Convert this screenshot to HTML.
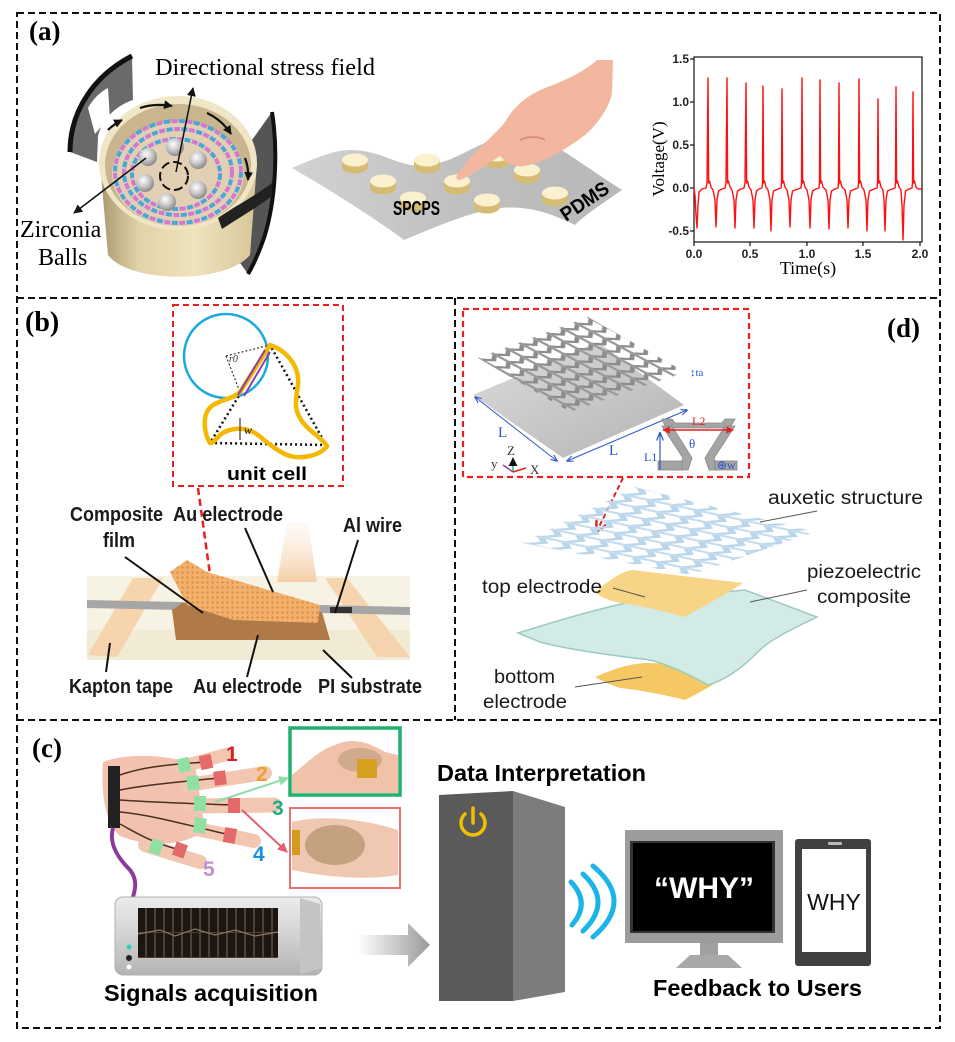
<!DOCTYPE html>
<html><head><meta charset="utf-8"><style>html,body{margin:0;padding:0;background:#fff}svg{display:block}</style></head><body>
<svg width="955" height="1042" viewBox="0 0 955 1042" xmlns="http://www.w3.org/2000/svg" font-family="'Liberation Sans', sans-serif">
<defs>
<marker id="ah" viewBox="0 0 10 10" refX="9" refY="5" markerWidth="6" markerHeight="6" orient="auto-start-reverse"><path d="M0,0 L10,5 L0,10 z" fill="#111"/></marker>
<marker id="ahs" viewBox="0 0 10 10" refX="9" refY="5" markerWidth="4" markerHeight="4" orient="auto"><path d="M0,0 L10,5 L0,10 z" fill="#111"/></marker>
<marker id="ahg" viewBox="0 0 10 10" refX="9" refY="5" markerWidth="5" markerHeight="5" orient="auto"><path d="M0,0 L10,5 L0,10 z" fill="#8fdcaa"/></marker>
<marker id="ahr" viewBox="0 0 10 10" refX="9" refY="5" markerWidth="5" markerHeight="5" orient="auto"><path d="M0,0 L10,5 L0,10 z" fill="#e06070"/></marker>
<marker id="ahb" viewBox="0 0 10 10" refX="9" refY="5" markerWidth="7" markerHeight="7" orient="auto-start-reverse"><path d="M0,1 L10,5 L0,9" fill="none" stroke="#2a55d0" stroke-width="1.5"/></marker>
<marker id="ahrd" viewBox="0 0 10 10" refX="9" refY="5" markerWidth="6" markerHeight="6" orient="auto"><path d="M0,0 L10,5 L0,10" fill="none" stroke="#e02020" stroke-width="2"/></marker>
<marker id="ahred" viewBox="0 0 10 10" refX="9" refY="5" markerWidth="5" markerHeight="5" orient="auto-start-reverse"><path d="M0,0 L10,5 L0,10 z" fill="#e02020"/></marker>
<radialGradient id="ballG" cx="0.4" cy="0.35" r="0.7"><stop offset="0" stop-color="#ffffff"/><stop offset="0.5" stop-color="#c8c8c8"/><stop offset="1" stop-color="#808080"/></radialGradient>
<linearGradient id="cupG" x1="0" y1="0" x2="1" y2="0"><stop offset="0" stop-color="#a89870"/><stop offset="0.25" stop-color="#e2d3a8"/><stop offset="0.6" stop-color="#efe3bd"/><stop offset="1" stop-color="#d7c698"/></linearGradient>
<linearGradient id="sheetG" x1="0" y1="0" x2="1" y2="0"><stop offset="0" stop-color="#d2d2d2"/><stop offset="0.5" stop-color="#c0c0c0"/><stop offset="1" stop-color="#b8b8b8"/></linearGradient>
<linearGradient id="devG" x1="0" y1="0" x2="0" y2="1"><stop offset="0" stop-color="#ececec"/><stop offset="0.5" stop-color="#d2d2d2"/><stop offset="1" stop-color="#b4b4b4"/></linearGradient>
<linearGradient id="arrG" x1="0" y1="0" x2="1" y2="0"><stop offset="0" stop-color="#ffffff"/><stop offset="1" stop-color="#9a9a9a"/></linearGradient>
<linearGradient id="glowG" x1="0" y1="1" x2="0" y2="0"><stop offset="0" stop-color="#f6cfa8"/><stop offset="1" stop-color="#fbeee2" stop-opacity="0.3"/></linearGradient>
<linearGradient id="plateG" x1="0" y1="0" x2="1" y2="1"><stop offset="0" stop-color="#dcdcdc"/><stop offset="1" stop-color="#b4b4b4"/></linearGradient>
<pattern id="lat" patternUnits="userSpaceOnUse" width="12.5" height="14" patternTransform="matrix(1.10,-0.41,0.99,0.53,478,358)">
<polyline points="0,3 6.25,9 12.5,3" fill="none" stroke="#8c8c8c" stroke-width="3.2"/>
<line x1="0" y1="0" x2="0" y2="14" stroke="#9a9a9a" stroke-width="2.6"/>
<line x1="12.5" y1="0" x2="12.5" y2="14" stroke="#9a9a9a" stroke-width="2.6"/>
</pattern>
<pattern id="aux" patternUnits="userSpaceOnUse" width="12.5" height="14" patternTransform="matrix(1.13,-0.56,1.68,0.36,522,543)">
<polyline points="0,3 6.25,9 12.5,3" fill="none" stroke="#b9d6ea" stroke-width="3.4"/>
<line x1="0" y1="0" x2="0" y2="14" stroke="#c4dcee" stroke-width="2.6"/>
<line x1="12.5" y1="0" x2="12.5" y2="14" stroke="#c4dcee" stroke-width="2.6"/>
</pattern>
<pattern id="grid" patternUnits="userSpaceOnUse" width="9" height="25" x="138" y="908">
<rect width="9" height="25" fill="#1c1612"/><line x1="8" y1="0" x2="8" y2="25" stroke="#6e5c48" stroke-width="1.2"/><line x1="0" y1="24.5" x2="9" y2="24.5" stroke="#4e4034" stroke-width="1"/>
</pattern>
<pattern id="mesh" patternUnits="userSpaceOnUse" width="5" height="5"><rect width="5" height="5" fill="#f2b06c"/><circle cx="2.5" cy="2.5" r="1.1" fill="#d88a40"/></pattern>
<g id="disc"><path d="M-13,0 L-13,7 A13,6.5 0 0 0 13,7 L13,0 Z" fill="#d6bb74"/><ellipse cx="0" cy="0" rx="13" ry="6.5" fill="#fbf1cf"/></g>
</defs>

<!-- Borders -->
<path d="M17,13 H940 V1028 H17 Z M17,298 H940 M455,298 V720 M17,720 H940" fill="none" stroke="#111" stroke-width="2" stroke-dasharray="7 4"/>

<!-- ===== Panel (a) ===== -->
<text x="29" y="40" font-family="'Liberation Serif', serif" font-weight="bold" font-size="27">(a)</text>

<path d="M70,152 C70,110 95,75 132,56 L133,100 C115,106 102,120 98,136 L97,162 Z" fill="#6a6a6a"/>
<path d="M88,108 C92,100 100,92 108,88 L110,120 C104,124 98,130 95,134 Z" fill="#fff"/>
<path d="M70,152 C70,110 95,75 132,56" fill="none" stroke="#111" stroke-width="5"/>
<path d="M252,140 L272,112 C278,150 276,200 264,238 C259,252 254,264 248,274 L238,260 C248,232 255,200 255,170 Z" fill="#555"/>
<path d="M272,112 C278,150 276,200 264,238 C259,252 254,264 248,274" fill="none" stroke="#111" stroke-width="4"/>
<path d="M100,163 L108,255 C130,284 226,284 250,255 L257,163 Z" fill="url(#cupG)"/>
<ellipse cx="178" cy="163" rx="79" ry="67" fill="#f0e5c4"/>
<ellipse cx="178" cy="165" rx="73" ry="61" fill="#c9b58e"/>
<ellipse cx="178" cy="174" rx="66" ry="52" fill="#e2cfb4"/>
<path d="M218,218 C235,206 255,196 272,183 L272,196 C258,207 240,217 222,229 Z" fill="#222"/>
<g fill="none" stroke-width="4">
<ellipse cx="178" cy="172" rx="63" ry="51" stroke="#4aa6d8" stroke-dasharray="6 9"/>
<ellipse cx="178" cy="172" rx="63" ry="51" stroke="#d27ad2" stroke-dasharray="6 9" stroke-dashoffset="7.5"/>
<ellipse cx="178" cy="172" rx="54" ry="43" stroke="#d27ad2" stroke-dasharray="6 9"/>
<ellipse cx="178" cy="172" rx="54" ry="43" stroke="#4aa6d8" stroke-dasharray="6 9" stroke-dashoffset="7.5"/>
<ellipse cx="176" cy="174" rx="44" ry="35" stroke="#4aa6d8" stroke-dasharray="6 9"/>
<ellipse cx="176" cy="174" rx="44" ry="35" stroke="#d27ad2" stroke-dasharray="6 9" stroke-dashoffset="7.5"/>
</g>
<g fill="url(#ballG)">
<circle cx="148" cy="157" r="9"/><circle cx="175" cy="147" r="9"/><circle cx="198" cy="160" r="9"/>
<circle cx="145" cy="183" r="9"/><circle cx="198" cy="190" r="9"/><circle cx="167" cy="202" r="9"/>
</g>
<circle cx="174" cy="176" r="14" fill="none" stroke="#111" stroke-width="2" stroke-dasharray="9 4"/>
<g fill="none" stroke="#111" stroke-width="2.2" marker-end="url(#ahs)">
<path d="M140,108 Q155,103 172,106"/>
<path d="M207,113 Q222,120 231,134"/>
<path d="M245,158 Q249,168 248,180"/>
<path d="M108,130 Q114,124 122,120"/>
</g>
<line x1="176" y1="172" x2="193" y2="88" stroke="#111" stroke-width="1.5" marker-end="url(#ah)"/>
<line x1="146" y1="158" x2="74" y2="213" stroke="#111" stroke-width="1.5" marker-end="url(#ah)"/>
<text x="155" y="75" font-family="'Liberation Serif', serif" font-size="24" textLength="220" lengthAdjust="spacingAndGlyphs">Directional stress field</text>
<text x="20" y="237" font-family="'Liberation Serif', serif" font-size="24">Zirconia</text>
<text x="38" y="265" font-family="'Liberation Serif', serif" font-size="24">Balls</text>

<path d="M292,168 C315,158 335,150 350,150 C385,150 400,170 430,165 C460,160 480,140 510,135 C540,130 560,150 622,190 C600,205 585,215 575,225 C555,215 530,205 500,208 C470,212 440,225 404,240 C370,215 330,190 292,168 Z" fill="url(#sheetG)"/>
<use href="#disc" x="355" y="160"/><use href="#disc" x="427" y="160"/><use href="#disc" x="497" y="155"/>
<use href="#disc" x="383" y="181"/><use href="#disc" x="457" y="181"/><use href="#disc" x="527" y="170"/>
<use href="#disc" x="413" y="198"/><use href="#disc" x="487" y="200"/><use href="#disc" x="555" y="193"/>
<path d="M597,60 C580,75 560,82 545,88 C528,95 515,105 505,122 C495,135 475,150 462,168 C455,176 455,180 460,180 C470,176 485,165 500,156 C505,162 515,168 525,166 C545,162 565,150 585,135 C600,122 610,105 612,93 L613,60 Z" fill="#f3b7a0"/>
<path d="M520,140 C528,136 538,136 545,140" fill="none" stroke="#d8907a" stroke-width="2"/>
<text x="393" y="215" font-weight="bold" font-size="20" textLength="47" lengthAdjust="spacingAndGlyphs">SPCPS</text>
<text x="0" y="0" font-weight="bold" font-size="20" textLength="54" lengthAdjust="spacingAndGlyphs" transform="translate(566,222) rotate(-34)">PDMS</text>

<rect x="694" y="57" width="228" height="185" fill="none" stroke="#111" stroke-width="1.2"/>
<g stroke="#111" stroke-width="1.2">
<line x1="690" y1="59" x2="694" y2="59"/><line x1="690" y1="102" x2="694" y2="102"/><line x1="690" y1="145" x2="694" y2="145"/><line x1="690" y1="188" x2="694" y2="188"/><line x1="690" y1="231" x2="694" y2="231"/>
<line x1="694" y1="242" x2="694" y2="246"/><line x1="750" y1="242" x2="750" y2="246"/><line x1="807" y1="242" x2="807" y2="246"/><line x1="863" y1="242" x2="863" y2="246"/><line x1="920" y1="242" x2="920" y2="246"/>
</g>
<g font-weight="bold" font-size="12" text-anchor="end" fill="#222">
<text x="689" y="63">1.5</text><text x="689" y="106">1.0</text><text x="689" y="149">0.5</text><text x="689" y="192">0.0</text><text x="689" y="235">-0.5</text>
</g>
<g font-weight="bold" font-size="12" text-anchor="middle" fill="#222">
<text x="694" y="258">0.0</text><text x="750" y="258">0.5</text><text x="807" y="258">1.0</text><text x="863" y="258">1.5</text><text x="920" y="258">2.0</text>
</g>
<text x="808" y="274" text-anchor="middle" font-family="'Liberation Serif', serif" font-size="18">Time(s)</text>
<text x="0" y="0" text-anchor="middle" font-family="'Liberation Serif', serif" font-size="17" transform="translate(664,159) rotate(-90)">Voltage(V)</text>
<path fill="none" stroke="#ff1010" stroke-width="1.4" stroke-linejoin="round" d="M694,188 L695,196 L696,215 L697,228 L698,205 L699,192 L702,189 L706,188 L707,183 L708,78 L708.6,183 L709.5,181 L711,187 L713,190 L715,200 L716,227 L717,200 L718.5,191 L722,189 L725,188 L726,183 L727,78 L727.6,183 L728.5,181 L730,187 L732,190 L734,200 L735,228 L736,200 L737.5,191 L741,189 L744,188 L745,183 L746,83 L746.6,183 L747.5,181 L749,187 L751,190 L753,200 L754,228 L755,200 L756.5,191 L759,189 L762,188 L762.5,183 L763,86 L763.6,183 L764.5,181 L766,187 L768,190 L770,200 L771,231 L772,200 L773.5,191 L778,189 L781,188 L781.5,183 L782,89 L782.6,183 L783.5,181 L785,187 L787,190 L789,200 L790,227 L791,200 L792.5,191 L798,189 L801,188 L801.5,183 L802,78 L802.6,183 L803.5,181 L805,187 L807,190 L809,200 L810,228 L811,200 L812.5,191 L816,189 L819,188 L819.5,183 L820,80 L820.6,183 L821.5,181 L823,187 L826,190 L828,200 L829,229 L830,200 L831.5,191 L835,189 L838,188 L838.5,183 L839,83 L839.6,183 L840.5,181 L842,187 L845,190 L847,200 L848,228 L849,200 L850.5,191 L855,189 L858,188 L858.5,183 L859,79 L859.6,183 L860.5,181 L862,187 L864,190 L866,200 L867,231 L868,200 L869.5,191 L874,189 L877,188 L877.5,183 L878,99 L878.6,183 L879.5,181 L881,187 L883,190 L884,200 L885,231 L886,200 L887.5,191 L892,189 L895,188 L895.5,183 L896,87 L896.6,183 L897.5,181 L899,187 L901,190 L902,205 L903,240 L904,205 L905.5,191 L909,189 L912,188 L912.5,183 L913,92 L913.6,183 L914.5,181 L916,187 L918,189 L922,189"/>

<!-- ===== Panel (b) ===== -->
<text x="25" y="331" font-family="'Liberation Serif', serif" font-weight="bold" font-size="28">(b)</text>
<rect x="173" y="305" width="170" height="181" fill="none" stroke="#e82020" stroke-width="2" stroke-dasharray="6 4"/>
<circle cx="226" cy="356" r="42" fill="none" stroke="#1aa8e0" stroke-width="2.5"/>
<path d="M270,345 L210,443 L326,445 Z" fill="none" stroke="#111" stroke-width="2.5" stroke-dasharray="2 3"/>
<line x1="226" y1="356" x2="270" y2="345" stroke="#111" stroke-width="1" stroke-dasharray="2 2"/>
<line x1="226" y1="356" x2="240" y2="392" stroke="#111" stroke-width="1" stroke-dasharray="2 2"/>
<path d="M270,345 C285,350 300,365 298,385 C296,400 292,410 305,425 C312,433 322,438 327,446 C320,456 300,460 287,455 C275,450 265,440 255,433 C245,427 230,427 220,435 C215,440 212,444 210,443 C205,435 202,420 208,410 C215,400 232,400 240,392 L270,345 Z" fill="none" stroke="#f5b700" stroke-width="4.5" stroke-linejoin="round"/>
<line x1="265" y1="350" x2="238" y2="395" stroke="#8a3fa8" stroke-width="2"/>
<line x1="270" y1="352" x2="244" y2="396" stroke="#8a3fa8" stroke-width="2"/>
<text x="229" y="362" font-family="'Liberation Serif', serif" font-style="italic" font-size="10" fill="#333">r0</text>
<line x1="240" y1="418" x2="240" y2="440" stroke="#111" stroke-width="1"/>
<text x="244" y="434" font-family="'Liberation Serif', serif" font-style="italic" font-size="12">w</text>
<text x="227" y="480" font-weight="bold" font-size="18" textLength="80" lengthAdjust="spacingAndGlyphs">unit cell</text>
<line x1="198" y1="488" x2="217" y2="625" stroke="#e82020" stroke-width="2.5" stroke-dasharray="7 4"/>
<rect x="87" y="576" width="323" height="84" fill="#f6f2e4"/>
<rect x="87" y="630" width="323" height="30" fill="#f1ebd6"/>
<polygon points="133,578 163,578 117,657 88,655" fill="#f6cfa4" opacity="0.85"/>
<polygon points="325,578 347,578 410,657 377,657" fill="#f6cfa4" opacity="0.85"/>
<polygon points="87,600 410,607 410,615 87,608" fill="#a6a6a6"/>
<rect x="330" y="607" width="22" height="6" fill="#333"/>
<polygon points="277,582 317,582 308,522 287,522" fill="url(#glowG)"/>
<polygon points="172,610 182,603 322,612 330,640 176,640" fill="#b07a48"/>
<polygon points="170,572 187,560 207,572 320,605 318,623 233,620 187,605" fill="url(#mesh)"/>
<g stroke="#111" stroke-width="2">
<line x1="125" y1="557" x2="203" y2="613"/><line x1="245" y1="528" x2="273" y2="592"/><line x1="358" y1="540" x2="335" y2="613"/>
<line x1="110" y1="643" x2="106" y2="672"/><line x1="258" y1="635" x2="247" y2="677"/><line x1="323" y1="650" x2="352" y2="678"/>
</g>
<g font-weight="bold" font-size="20" fill="#1a1a1a">
<text x="70" y="521" textLength="93" lengthAdjust="spacingAndGlyphs">Composite</text>
<text x="103" y="547" textLength="32" lengthAdjust="spacingAndGlyphs">film</text>
<text x="173" y="521" textLength="110" lengthAdjust="spacingAndGlyphs">Au electrode</text>
<text x="343" y="532" textLength="59" lengthAdjust="spacingAndGlyphs">Al wire</text>
<text x="69" y="693" textLength="104" lengthAdjust="spacingAndGlyphs">Kapton tape</text>
<text x="193" y="693" textLength="109" lengthAdjust="spacingAndGlyphs">Au electrode</text>
<text x="318" y="693" textLength="104" lengthAdjust="spacingAndGlyphs">PI substrate</text>
</g>

<!-- ===== Panel (d) ===== -->
<text x="887" y="337" font-family="'Liberation Serif', serif" font-weight="bold" font-size="27">(d)</text>
<rect x="463" y="309" width="286" height="168" fill="none" stroke="#e82020" stroke-width="2.2" stroke-dasharray="6 4"/>
<polygon points="473,395 598,342 684,405 563,458" fill="url(#plateG)"/>
<polygon points="478,358 588,317 685,372 570,412" fill="url(#lat)"/>
<line x1="475" y1="397" x2="557" y2="461" stroke="#2a55d0" stroke-width="1" marker-start="url(#ahb)" marker-end="url(#ahb)"/>
<line x1="567" y1="461" x2="687" y2="410" stroke="#2a55d0" stroke-width="1" marker-start="url(#ahb)" marker-end="url(#ahb)"/>
<g font-family="'Liberation Serif', serif" fill="#2a55d0">
<text x="498" y="437" font-size="15">L</text><text x="609" y="455" font-size="15">L</text>
<text x="690" y="376" font-size="11">↕ta</text>
<text x="644" y="461" font-size="12">L1</text>
<text x="689" y="448" font-size="13">θ</text>
</g>
<g fill="#a4a4a4" stroke="#888" stroke-width="0.8">
<polygon points="662,419 672,419 675,423 722,423 725,419 735,419 730,428 666,428"/>
<polygon points="662,426 672,426 692,458 688,470 678,470 683,458"/>
<polygon points="735,426 725,426 705,458 709,470 719,470 714,458"/>
<rect x="658" y="461" width="24" height="9"/>
<rect x="715" y="461" width="22" height="9"/>
</g>
<text x="717" y="469" font-family="'Liberation Serif', serif" font-size="12" fill="#2a55d0">⊕w</text>
<line x1="663" y1="430" x2="733" y2="430" stroke="#e02020" stroke-width="1.5" marker-start="url(#ahred)" marker-end="url(#ahred)"/>
<text x="692" y="425" font-family="'Liberation Serif', serif" font-size="12" fill="#e02020">L2</text>
<line x1="660" y1="470" x2="660" y2="433" stroke="#2a55d0" stroke-width="1.2" marker-end="url(#ahb)"/>
<line x1="513" y1="472" x2="513" y2="458" stroke="#20c070" stroke-width="1.5" marker-end="url(#ah)"/>
<line x1="513" y1="472" x2="526" y2="468" stroke="#e02020" stroke-width="1.5"/>
<line x1="513" y1="472" x2="503" y2="465" stroke="#8a3fa8" stroke-width="1.5"/>
<g font-family="'Liberation Serif', serif" font-size="13" fill="#333"><text x="507" y="455">Z</text><text x="491" y="468">y</text><text x="530" y="474">X</text></g>
<line x1="623" y1="478" x2="597" y2="531" stroke="#e02020" stroke-width="2" stroke-dasharray="5 3" marker-end="url(#ahrd)"/>
<path d="M595,677 C615,668 630,664 645,663 L742,665 C725,678 705,690 685,700 C665,695 640,690 620,688 C608,684 600,680 595,677 Z" fill="#f5c864"/>
<path d="M518,633 C560,620 600,608 640,600 L745,590 L817,617 C790,630 770,640 760,650 C740,670 725,680 708,685 C690,675 670,665 650,660 C610,655 570,650 540,642 Z" fill="#d3ebe6" stroke="#9ccac0" stroke-width="1.5"/>
<path d="M595,592 C610,580 620,572 632,570 L743,583 C725,595 700,608 685,617 C665,612 640,605 620,603 C608,600 600,597 595,592 Z" fill="#f7d486"/>
<polygon points="522,543 635,487 815,532 690,575" fill="url(#aux)"/>
<g stroke="#555" stroke-width="1">
<line x1="817" y1="511" x2="760" y2="522"/><line x1="807" y1="590" x2="750" y2="602"/>
<line x1="613" y1="588" x2="645" y2="597"/><line x1="575" y1="687" x2="642" y2="677"/>
</g>
<g font-size="19" fill="#1a1a1a">
<text x="768" y="504" textLength="155" lengthAdjust="spacingAndGlyphs">auxetic  structure</text>
<text x="807" y="578" textLength="114" lengthAdjust="spacingAndGlyphs">piezoelectric</text>
<text x="817" y="603" textLength="94" lengthAdjust="spacingAndGlyphs">composite</text>
<text x="482" y="593" textLength="120" lengthAdjust="spacingAndGlyphs">top  electrode</text>
<text x="494" y="683" textLength="61" lengthAdjust="spacingAndGlyphs">bottom</text>
<text x="483" y="708" textLength="84" lengthAdjust="spacingAndGlyphs">electrode</text>
</g>

<!-- ===== Panel (c) ===== -->
<text x="32" y="757" font-family="'Liberation Serif', serif" font-weight="bold" font-size="27">(c)</text>
<path d="M103,762 C130,752 170,755 195,765 L205,830 C185,846 150,848 120,836 C108,826 100,800 103,762 Z" fill="#f2c2ae"/>
<g stroke="#f3c6b2" stroke-linecap="round" fill="none">
<line x1="180" y1="767" x2="228" y2="754" stroke-width="13"/>
<line x1="188" y1="785" x2="265" y2="773" stroke-width="14"/>
<line x1="192" y1="806" x2="274" y2="805" stroke-width="15"/>
<line x1="192" y1="828" x2="254" y2="841" stroke-width="14"/>
<line x1="145" y1="845" x2="200" y2="862" stroke-width="14"/>
</g>
<g stroke="#4a3020" stroke-width="1.5" fill="none">
<path d="M120,775 C140,768 160,765 206,762"/>
<path d="M120,790 C140,786 165,783 220,778"/>
<path d="M120,800 C150,802 175,803 234,805"/>
<path d="M120,812 C150,815 175,822 230,835"/>
<path d="M120,824 C135,832 150,842 180,850"/>
</g>
<g fill="#8fe0a2">
<rect x="178" y="758" width="12" height="14" transform="rotate(-12 184 765)"/>
<rect x="187" y="776" width="12" height="14" transform="rotate(-8 193 783)"/>
<rect x="194" y="796" width="12" height="15"/>
<rect x="194" y="818" width="12" height="15" transform="rotate(8 200 825)"/>
<rect x="150" y="840" width="12" height="14" transform="rotate(20 156 847)"/>
</g>
<g fill="#e46a6a">
<rect x="200" y="755" width="12" height="14" transform="rotate(-12 206 762)"/>
<rect x="214" y="771" width="12" height="14" transform="rotate(-8 220 778)"/>
<rect x="228" y="798" width="12" height="15"/>
<rect x="224" y="828" width="12" height="15" transform="rotate(10 230 835)"/>
<rect x="174" y="843" width="12" height="14" transform="rotate(20 180 850)"/>
</g>
<rect x="108" y="766" width="12" height="62" fill="#222"/>
<path d="M113,828 C108,845 120,860 130,870 C138,880 135,890 133,897" fill="none" stroke="#8a3a9a" stroke-width="4"/>
<g font-weight="bold" font-size="21">
<text x="226" y="761" fill="#d8202a">1</text>
<text x="256" y="781" fill="#f0a030">2</text>
<text x="272" y="815" fill="#20b080">3</text>
<text x="253" y="861" fill="#1890e0">4</text>
<text x="203" y="876" fill="#c090d0">5</text>
</g>
<line x1="215" y1="802" x2="288" y2="778" stroke="#8fdcaa" stroke-width="2" marker-end="url(#ahg)"/>
<line x1="242" y1="810" x2="287" y2="852" stroke="#e06070" stroke-width="2" marker-end="url(#ahr)"/>
<rect x="290" y="728" width="110" height="67" fill="#fff"/>
<path d="M292,775 C310,760 320,750 335,745 C350,738 365,740 385,752 L398,755 L398,793 L292,793 Z" fill="#f0c2aa"/>
<ellipse cx="360" cy="760" rx="22" ry="12" fill="#c0a080" opacity="0.7"/>
<rect x="357" y="759" width="20" height="19" fill="#d6a020"/>
<rect x="290" y="728" width="110" height="67" fill="none" stroke="#20b070" stroke-width="3.5"/>
<rect x="290" y="808" width="110" height="80" fill="#fff"/>
<path d="M292,822 C320,815 360,818 398,830 L398,875 C370,880 330,878 292,870 Z" fill="#f0c8b2"/>
<ellipse cx="335" cy="845" rx="30" ry="20" fill="#b0906a" opacity="0.7"/>
<rect x="292" y="830" width="8" height="25" fill="#d49a20"/>
<rect x="290" y="808" width="110" height="80" fill="none" stroke="#e87070" stroke-width="2"/>
<rect x="115" y="897" width="207" height="78" rx="8" fill="url(#devG)" stroke="#b0b0b0" stroke-width="1"/>
<path d="M300,898 L320,904 L322,968 L300,974 Z" fill="#c4c4c4"/>
<rect x="138" y="908" width="140" height="50" fill="url(#grid)"/>
<path d="M138,934 L160,930 L175,936 L195,929 L215,935 L235,930 L255,936 L278,932" fill="none" stroke="#8a7866" stroke-width="1.2"/>
<circle cx="129" cy="947" r="2.5" fill="#30d0c0"/><circle cx="129" cy="958" r="3" fill="#222"/><circle cx="129" cy="967" r="2.5" fill="#fff"/>
<text x="104" y="1001" font-weight="bold" font-size="23" textLength="214" lengthAdjust="spacingAndGlyphs">Signals acquisition</text>
<polygon points="358,935 408,935 408,923 430,945 408,967 408,955 358,955" fill="url(#arrG)"/>
<text x="437" y="781" font-weight="bold" font-size="23" textLength="209" lengthAdjust="spacingAndGlyphs">Data Interpretation</text>
<polygon points="439,795 513,791 513,1001 439,1001" fill="#5a5a5a"/>
<polygon points="513,791 565,807 565,992 513,1001" fill="#7c7c7c"/>
<path d="M465,814 A12,12 0 1 0 481,814" fill="none" stroke="#f0c000" stroke-width="3.5" stroke-linecap="round"/>
<line x1="473" y1="808" x2="473" y2="823" stroke="#f0c000" stroke-width="3.5" stroke-linecap="round"/>
<g fill="none" stroke="#1ab4e8" stroke-width="5" stroke-linecap="round">
<path d="M571,882 Q591,903 572,925"/>
<path d="M583,874 Q613,902 583,931"/>
<path d="M593,866 Q635,901 593,937"/>
</g>
<rect x="625" y="830" width="158" height="113" fill="#9c9c9c"/>
<rect x="630" y="841" width="145" height="92" fill="#333"/>
<rect x="633" y="843" width="139" height="88" fill="#000"/>
<rect x="700" y="943" width="18" height="12" fill="#a0a0a0"/>
<polygon points="690,955 728,955 742,968 676,968" fill="#a8a8a8"/>
<text x="704" y="898" text-anchor="middle" font-weight="bold" font-size="30" fill="#fff">“WHY”</text>
<rect x="795" y="839" width="76" height="127" rx="3" fill="#404040"/>
<rect x="802" y="849" width="64" height="103" fill="#fff"/>
<rect x="828" y="842" width="14" height="3" rx="1" fill="#bbb"/>
<text x="834" y="910" text-anchor="middle" font-size="23" fill="#111">WHY</text>
<text x="653" y="996" font-weight="bold" font-size="23" textLength="209" lengthAdjust="spacingAndGlyphs">Feedback to Users</text>
</svg>
</body></html>
